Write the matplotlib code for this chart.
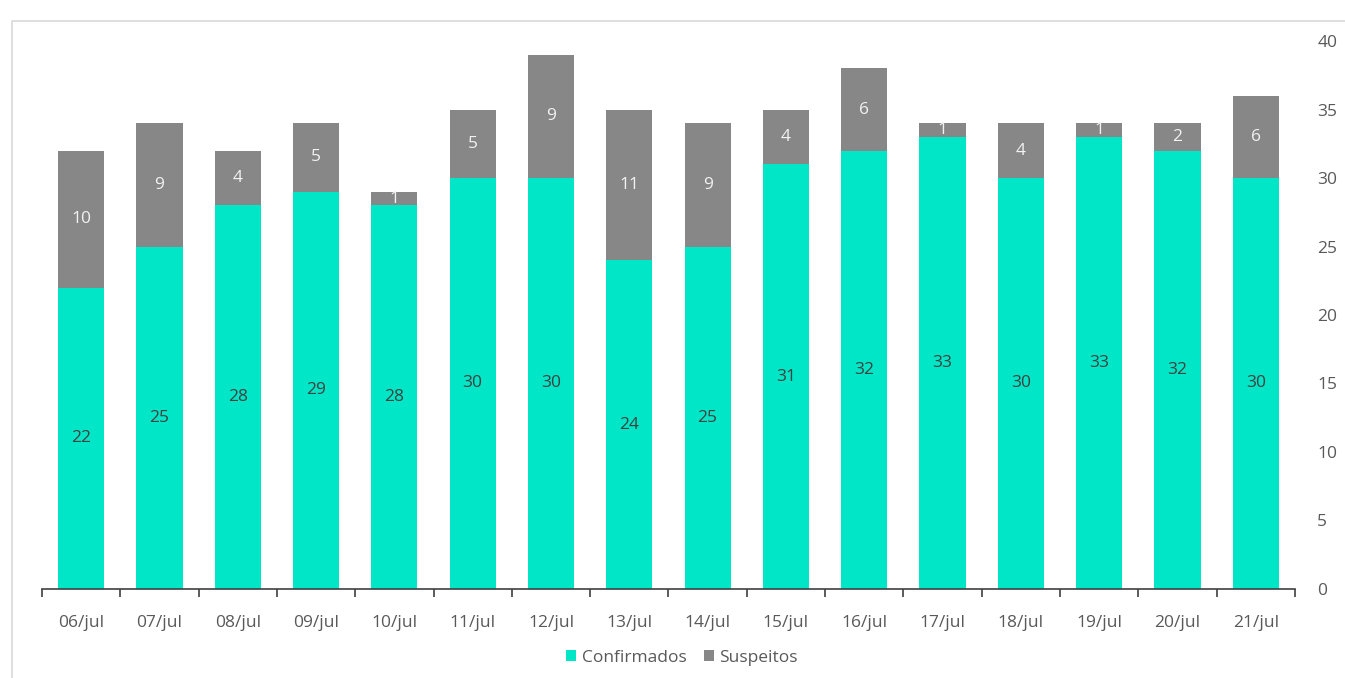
import matplotlib.pyplot as plt
from matplotlib.patches import Rectangle
import numpy as np

plt.rcParams['font.family'] = ['Open Sans', 'DejaVu Sans']

# Dados
datas = ["06/jul", "07/jul", "08/jul", "09/jul", "10/jul", "11/jul", "12/jul", "13/jul",
         "14/jul", "15/jul", "16/jul", "17/jul", "18/jul", "19/jul", "20/jul", "21/jul"]
confirmados = [22, 25, 28, 29, 28, 30, 30, 24, 25, 31, 32, 33, 30, 33, 32, 30]
suspeitos = [10, 9, 4, 5, 1, 5, 9, 11, 9, 4, 6, 1, 4, 1, 2, 6]

cor_conf = "#00E6C6"
cor_susp = "#878787"

fig = plt.figure(figsize=(13.45, 6.78), dpi=100)
ax = fig.add_axes([0.0312, 0.1313, 0.9316, 0.8082])

# moldura do gráfico (cortada à direita e em baixo)
fig.patches.append(Rectangle((12 / 1345, -0.1), 1.2, 1 - 21 / 678 + 0.1,
                             transform=fig.transFigure, fill=False,
                             edgecolor="#d9d9d9", linewidth=1.2))

x = np.arange(len(datas))
largura = 0.59
b1 = ax.bar(x, confirmados, largura, color=cor_conf, label="Confirmados")
b2 = ax.bar(x, suspeitos, largura, bottom=confirmados, color=cor_susp, label="Suspeitos")

ax.bar_label(b1, label_type="center", color="#404040", fontsize=12.5)
ax.bar_label(b2, label_type="center", color="#f2f2f2", fontsize=12.5)

ax.set_xlim(-0.5, len(datas) - 0.5)
ax.set_ylim(0, 40)
ax.set_yticks(range(0, 41, 5))
ax.yaxis.tick_right()
ax.tick_params(axis="y", length=0, pad=16, labelsize=12.5, labelcolor="#595959")

ax.set_xticks(x)
ax.set_xticklabels(datas)
ax.set_xticks(np.arange(-0.5, len(datas)), minor=True)
ax.tick_params(axis="x", which="major", length=0, pad=19, labelsize=12.5, labelcolor="#595959")
ax.tick_params(axis="x", which="minor", length=6, width=1.2, color="#404040", direction="out")

for s in ["top", "left", "right"]:
    ax.spines[s].set_visible(False)
ax.spines["bottom"].set_color("#404040")
ax.spines["bottom"].set_linewidth(1.2)

fig.legend(handles=[b1, b2], loc="center", bbox_to_anchor=(682 / 1345, 1 - 658 / 678),
           ncol=2, frameon=False, fontsize=12.5, labelcolor="#595959",
           handlelength=0.6, handleheight=0.6, handletextpad=0.3, columnspacing=1.0)

fig.savefig("out.png", dpi=100)
